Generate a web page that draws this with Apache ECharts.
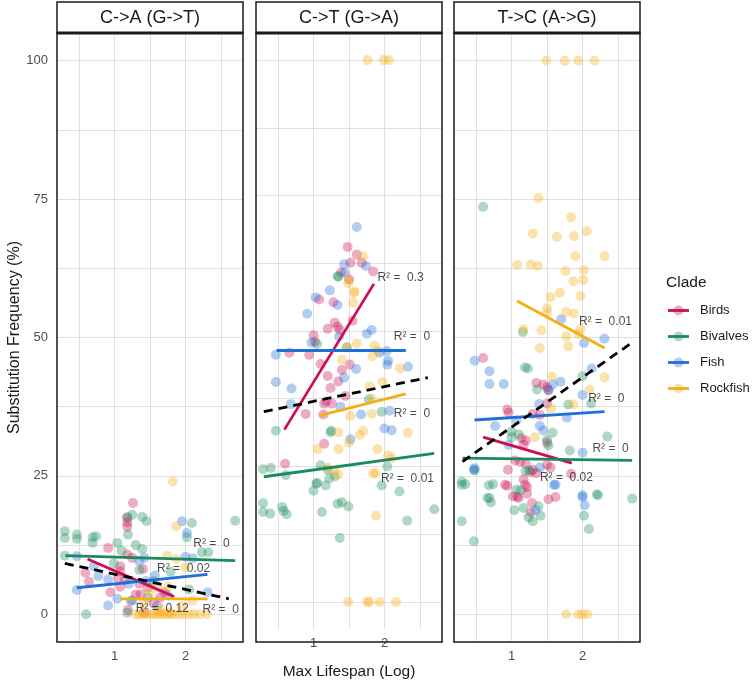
<!DOCTYPE html>
<html><head><meta charset="utf-8">
<script src="https://cdn.jsdelivr.net/npm/echarts@6/dist/echarts.min.js"></script>
<style>html,body{margin:0;padding:0;background:#fff}#c{width:752px;height:685px}</style>
</head><body><div id="c"></div>
<script>
const clades = ['Birds','Bivalves','Fish','Rockfish'];
const panels = ['C->A (G->T)','C->T (G->A)','T->C (A->G)'];
const xTickLabels = [1, 2];
const xGridValues = [0.5, 1, 1.5, 2, 2.5];
const yTickLabels = [0, 25, 50, 75, 100];
const yGridValues = [0, 12.5, 25, 37.5, 50, 62.5, 75, 87.5, 100];

// ---- C->A (G->T) ----
const ca_Birds = [[1.26,20.1],[1.18,17.4],[1.18,16.6],[1.18,15.8],[0.91,12.0],[0.59,7.5],[0.64,5.9],[0.94,4.0],[1.08,8.7],[1.08,7.8],[1.18,10.8],[1.25,10.2],[1.30,3.6],[1.37,3.6],[1.47,4.8],[1.19,0.8],[1.42,0.3],[1.64,3.0],[1.05,6.5],[1.08,5.0],[1.15,6.2],[1.35,5.5],[1.55,2.0],[1.70,4.0],[1.40,8.2]];
const ca_Bivalves = [[0.30,15.0],[0.30,13.8],[0.47,14.4],[0.47,13.6],[0.69,13.9],[0.74,14.1],[0.69,12.9],[1.04,12.9],[1.18,17.6],[1.25,18.0],[1.39,17.6],[1.45,16.8],[1.19,14.4],[1.30,12.5],[1.39,11.8],[2.09,16.5],[2.70,16.9],[2.23,11.2],[2.32,11.2],[2.05,4.5],[0.60,0.0],[1.18,0.3],[0.30,10.6],[1.35,8.0],[0.99,9.2],[1.23,2.4],[1.47,3.0],[1.79,7.7],[2.02,13.9],[1.10,11.5],[1.55,6.0]];
const ca_Fish = [[1.95,16.8],[2.02,14.7],[2.00,10.4],[2.10,10.1],[2.31,4.0],[0.47,10.5],[0.47,4.4],[0.71,8.7],[0.77,6.9],[0.91,6.3],[0.91,1.6],[1.04,2.8],[1.35,9.6],[1.42,10.2],[1.57,7.0],[1.25,2.5],[1.45,6.0],[1.60,1.5],[1.20,5.5],[1.75,3.5]];
const ca_Rockfish = [[1.82,24.0],[1.87,15.9],[1.74,10.6],[1.87,10.0],[2.00,8.5],[1.60,5.0],[1.75,5.0],[1.50,4.0],[1.40,2.0],[1.95,1.5],[2.10,2.5],[1.65,1.0],[1.30,0],[1.35,0],[1.40,0],[1.45,0],[1.50,0],[1.55,0],[1.60,0],[1.65,0],[1.70,0],[1.75,0],[1.80,0],[1.85,0],[1.92,0],[1.98,0],[2.05,0],[2.12,0],[2.20,0],[2.30,0],[1.62,0.4],[1.78,0.3]];
const ca_fits = [[0.62,10.0,1.84,3.2],[0.31,10.6,2.70,9.7],[0.47,4.8,2.31,7.2],[1.08,2.8,2.31,2.8]];
const ca_overall = [0.30,9.2,2.61,2.8];
const ca_r2 = [[1.30,1.0,'0.12'],[2.11,12.8,'0'],[1.60,8.3,'0.02'],[2.24,0.9,'0']];

// ---- C->T (G->A) ----
const ct_Birds = [[1.48,65.5],[1.61,64.1],[1.52,62.6],[1.68,62.6],[1.84,61.0],[1.39,60.8],[1.50,59.5],[1.08,55.8],[1.28,55.3],[1.30,51.5],[1.34,50.8],[1.37,50.2],[1.20,50.4],[1.55,51.9],[1.00,49.2],[1.02,48.0],[0.66,46.0],[0.94,45.6],[1.10,43.9],[1.51,43.8],[1.40,42.8],[1.20,41.7],[1.35,40.7],[1.24,39.5],[1.26,36.6],[1.15,36.6],[0.89,34.7],[1.14,34.6],[1.15,29.2],[0.60,25.5],[1.18,37.0],[1.45,38.0]];
const ct_Bivalves = [[1.34,60.1],[1.35,60.0],[1.05,47.6],[1.47,47.0],[1.78,37.4],[1.96,35.1],[0.47,31.6],[1.24,31.3],[1.25,31.6],[0.29,24.5],[0.61,23.4],[1.10,25.2],[1.20,24.4],[1.30,23.2],[1.22,22.8],[1.04,21.8],[1.05,22.0],[1.00,20.5],[1.17,21.5],[1.96,21.5],[2.04,25.0],[2.21,20.4],[0.29,18.2],[0.29,16.6],[0.39,16.3],[0.56,17.5],[0.58,16.8],[0.62,16.2],[1.12,16.6],[1.34,18.1],[1.40,18.4],[1.49,17.6],[2.32,15.0],[2.70,17.1],[1.37,11.8],[0.40,24.7]];
const ct_Fish = [[1.61,69.2],[1.43,62.3],[1.74,62.0],[1.44,60.8],[1.23,57.5],[1.03,56.2],[1.34,54.8],[0.91,53.2],[1.36,49.0],[1.75,49.5],[1.82,50.2],[0.97,47.9],[1.93,46.0],[2.03,46.3],[0.47,45.6],[2.05,44.5],[2.04,43.8],[1.60,43.0],[2.33,43.4],[0.47,40.6],[1.43,41.4],[0.69,39.4],[0.68,36.5],[2.07,35.3],[1.67,34.6],[2.00,32.0],[2.10,31.7],[1.52,30.0],[1.38,36.0]];
const ct_Rockfish = [[1.76,100],[1.99,100],[2.06,100],[1.70,63.8],[1.50,59.5],[1.58,57.3],[1.49,58.8],[1.57,57.0],[1.56,55.2],[1.47,47.0],[1.61,47.7],[1.86,47.3],[1.90,46.4],[1.83,45.3],[1.40,44.7],[2.22,43.1],[1.79,39.8],[1.97,40.6],[1.82,37.6],[1.82,34.7],[1.52,34.3],[1.70,31.6],[1.65,30.8],[1.35,31.3],[2.33,31.2],[1.50,29.4],[1.06,28.2],[1.35,28.2],[1.90,28.2],[2.05,27.0],[2.10,26.5],[1.30,24.2],[1.35,23.5],[1.87,23.8],[1.84,23.7],[1.88,15.9],[1.49,0],[1.76,0],[1.78,0],[1.93,0],[2.16,0],[1.20,24.8]];
const ct_fits = [[0.59,31.8,1.85,58.7],[0.30,23.1,2.70,27.4],[0.48,46.4,2.30,46.4],[1.08,34.4,2.30,38.4]];
const ct_overall = [0.30,35.1,2.61,41.4];
const ct_r2 = [[1.90,59.8,'0.3'],[2.13,49.0,'0'],[2.13,34.8,'0'],[1.95,22.8,'0.01']];

// ---- T->C (A->G) ----
const tc_Birds = [[0.60,46.3],[1.35,41.8],[1.45,41.5],[1.50,41.0],[1.52,40.5],[1.50,38.1],[0.94,37.0],[0.96,36.4],[1.30,36.2],[1.40,36.0],[1.14,31.8],[1.20,31.4],[1.17,30.6],[1.50,31.0],[1.05,27.8],[1.12,27.5],[1.20,27.2],[0.95,26.1],[1.30,26.1],[1.27,25.7],[1.35,25.5],[1.50,27.0],[1.55,26.5],[1.84,25.4],[0.94,23.2],[1.22,23.0],[1.22,21.8],[0.91,23.4],[1.02,21.3],[1.08,21.3],[1.17,24.4],[1.19,23.4],[1.52,20.8],[1.62,21.2],[1.29,20.1],[1.27,18.4],[1.10,21.0]];
const tc_Bivalves = [[0.60,73.6],[1.16,51.0],[1.19,44.6],[1.23,44.4],[2.00,43.0],[1.36,40.6],[1.80,37.9],[2.12,38.1],[1.00,33.0],[1.10,32.5],[1.58,32.8],[1.00,32.0],[1.50,31.5],[1.52,30.5],[2.35,32.1],[1.82,29.6],[0.48,26.0],[0.35,23.5],[0.30,24.0],[0.30,23.4],[0.68,23.3],[0.74,23.5],[1.13,22.4],[1.07,22.5],[1.20,25.9],[2.20,21.7],[0.66,21.0],[0.69,21.0],[0.71,20.2],[1.04,18.8],[1.17,19.2],[1.38,19.5],[1.24,17.5],[1.30,16.8],[1.41,17.8],[2.22,21.5],[2.70,20.9],[2.02,17.8],[2.09,15.4],[0.30,16.8],[0.47,13.2],[1.25,26.0]];
const tc_Fish = [[1.70,53.3],[2.02,49.0],[2.31,49.8],[0.48,45.8],[2.13,44.4],[0.69,43.9],[0.69,41.6],[0.89,41.6],[1.58,41.5],[1.69,42.0],[1.52,40.5],[2.00,39.6],[1.39,38.0],[1.78,35.5],[1.07,35.0],[1.40,34.0],[1.45,33.2],[0.77,34.0],[0.96,30.6],[2.00,29.2],[0.48,26.4],[0.47,26.1],[1.40,26.5],[1.60,23.4],[1.62,23.4],[2.00,21.5],[2.00,21.2],[2.03,19.7],[1.34,18.8]];
const tc_Rockfish = [[1.49,100],[1.75,100],[1.94,100],[2.17,100],[1.38,75.2],[1.84,71.7],[1.30,68.8],[1.64,68.2],[1.88,68.3],[2.06,69.2],[1.90,64.7],[2.31,64.7],[1.08,63.1],[1.27,63.2],[1.37,62.9],[1.76,62.0],[2.02,62.2],[1.87,60.1],[2.01,60.4],[1.68,58.1],[1.55,57.3],[1.97,57.5],[1.50,55.3],[1.50,54.4],[1.77,54.6],[1.88,54.3],[1.97,51.5],[1.17,51.5],[1.42,51.3],[1.77,50.2],[1.94,50.6],[1.40,48.1],[1.80,48.4],[1.57,42.9],[2.31,42.8],[2.10,40.6],[1.87,37.9],[1.56,37.2],[1.33,32.0],[1.77,0],[1.94,0],[2.00,0],[2.07,0]];
const tc_fits = [[0.60,32.0,1.85,27.3],[0.31,28.2,2.70,27.8],[0.48,35.1,2.31,36.6],[1.08,56.6,2.31,48.1]];
const tc_overall = [0.31,27.6,2.70,49.1];
const tc_r2 = [[1.95,52.8,'0.01'],[2.08,38.9,'0'],[2.14,29.9,'0'],[1.40,24.7,'0.02']];

const colors = ['#CC0D57','#198C5C','#1F6FD8','#F5AE17'];
const FONT = '"Liberation Sans", Arial, Helvetica, sans-serif';

const panelPoints = [
  [ca_Birds, ca_Bivalves, ca_Fish, ca_Rockfish],
  [ct_Birds, ct_Bivalves, ct_Fish, ct_Rockfish],
  [tc_Birds, tc_Bivalves, tc_Fish, tc_Rockfish]
];
const panelFits = [ca_fits, ct_fits, tc_fits];
const panelOverall = [ca_overall, ct_overall, tc_overall];
const panelR2 = [ca_r2, ct_r2, tc_r2];

const gridLeft = [57, 256, 454];
const gridW = 186, gridTop = 33, gridH = 609;

const grids = [], xAxes = [], yAxes = [], series = [], graphics = [];
for (let p = 0; p < 3; p++) {
  grids.push({left: gridLeft[p], top: gridTop, width: gridW, height: gridH, show: false});
  xAxes.push({
    type: 'value', gridIndex: p, min: 0.19, max: 2.81,
    axisLine: {show: false},
    axisTick: {show: false, customValues: xGridValues},
    axisLabel: {customValues: xTickLabels, color: '#4d4d4d', fontSize: 13, margin: 8, fontFamily: FONT},
    splitLine: {show: true, lineStyle: {color: '#e0e0e0', width: 1}},
    name: p === 1 ? 'Max Lifespan (Log)' : '',
    nameLocation: 'middle', nameGap: 35,
    nameTextStyle: {fontSize: 15.5, color: '#1a1a1a', fontFamily: FONT}
  });
  yAxes.push({
    type: 'value', gridIndex: p, min: -5, max: 105,
    axisLine: {show: false},
    axisTick: {show: false, customValues: yGridValues},
    axisLabel: {show: p === 0, customValues: yTickLabels, color: '#4d4d4d', fontSize: 13, margin: 9, fontFamily: FONT},
    splitLine: {show: true, lineStyle: {color: '#e0e0e0', width: 1}},
    name: p === 0 ? 'Substitution Frequency (%)' : '',
    nameLocation: 'middle', nameGap: 33, nameRotate: 90,
    nameTextStyle: {fontSize: 16, color: '#1a1a1a', fontFamily: FONT}
  });
  for (let c = 0; c < 4; c++) {
    series.push({
      type: 'scatter', name: clades[c], xAxisIndex: p, yAxisIndex: p,
      data: panelPoints[p][c], symbolSize: 10, z: 2,
      itemStyle: {color: colors[c], opacity: 0.35}, silent: true
    });
  }
  for (let c = 0; c < 4; c++) {
    const f = panelFits[p][c];
    series.push({
      type: 'line', name: clades[c] + ' fit', xAxisIndex: p, yAxisIndex: p,
      data: [[f[0], f[1]], [f[2], f[3]]], showSymbol: false, z: 3,
      lineStyle: {color: colors[c], width: 2.8}, silent: true
    });
  }
  const o = panelOverall[p];
  series.push({
    type: 'line', name: 'Overall', xAxisIndex: p, yAxisIndex: p,
    data: [[o[0], o[1]], [o[2], o[3]]], showSymbol: false, z: 4,
    lineStyle: {color: '#000', width: 2.8, type: [9, 6]}, silent: true
  });
  series.push({
    type: 'scatter', name: 'R2', xAxisIndex: p, yAxisIndex: p, z: 5,
    data: panelR2[p], symbolSize: 0, silent: true,
    label: {show: true, position: 'right', distance: 0, align: 'left', verticalAlign: 'middle',
      formatter: d => 'R\u00B2 =  ' + d.value[2], fontSize: 12, color: '#1a1a1a', fontFamily: FONT}
  });
  graphics.push({type: 'rect', z: 100, shape: {x: gridLeft[p], y: gridTop, width: gridW, height: gridH},
    style: {fill: 'none', stroke: '#1a1a1a', lineWidth: 1.5}});
  graphics.push({type: 'rect', z: 100, shape: {x: gridLeft[p], y: 2, width: gridW, height: 31},
    style: {fill: '#fff', stroke: '#1a1a1a', lineWidth: 1.5}});
  graphics.push({type: 'line', z: 101, shape: {x1: gridLeft[p], y1: 33, x2: gridLeft[p] + gridW, y2: 33},
    style: {stroke: '#1a1a1a', lineWidth: 3}});
  graphics.push({type: 'text', z: 102, x: gridLeft[p] + gridW / 2, y: 18,
    style: {text: panels[p], fill: '#1a1a1a', fontSize: 18, fontFamily: FONT, align: 'center', verticalAlign: 'middle'}});
}

// legend
graphics.push({type: 'text', x: 666, y: 283, style: {text: 'Clade', fill: '#1a1a1a', fontSize: 15.5, fontFamily: FONT, verticalAlign: 'middle'}});
const legY = [310.5, 336.5, 362.5, 388.5];
for (let c = 0; c < 4; c++) {
  graphics.push({type: 'line', shape: {x1: 668, y1: legY[c], x2: 689, y2: legY[c]}, style: {stroke: colors[c], lineWidth: 2.8}});
  graphics.push({type: 'circle', shape: {cx: 678.5, cy: legY[c], r: 5}, style: {fill: colors[c], opacity: 0.35}});
  graphics.push({type: 'text', x: 700, y: legY[c], style: {text: clades[c], fill: '#1a1a1a', fontSize: 13, fontFamily: FONT, verticalAlign: 'middle'}});
}

const chart = echarts.init(document.getElementById('c'), null, {renderer: 'canvas'});
chart.setOption({
  animation: false,
  backgroundColor: '#fff',
  grid: grids, xAxis: xAxes, yAxis: yAxes, series: series, graphic: graphics
});
</script></body></html>
